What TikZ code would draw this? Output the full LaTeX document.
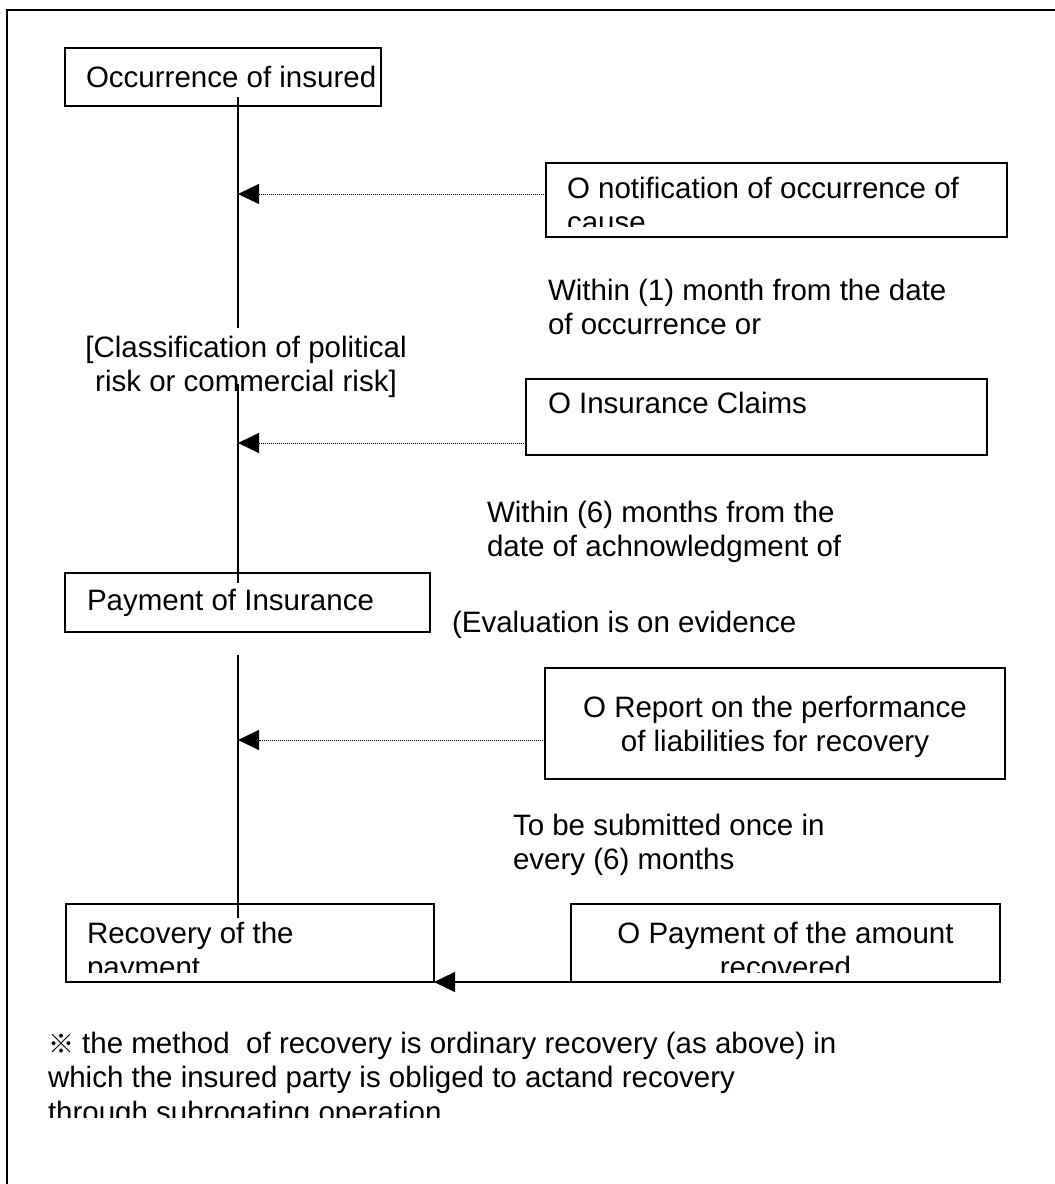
\documentclass[tikz,border=0pt]{standalone}
\usepackage{fontspec}
\setmainfont{Liberation Sans}
\newfontfamily\refmarkfont{Noto Sans CJK JP}
\usetikzlibrary{arrows.meta}
\begin{document}
\begin{tikzpicture}[x=1pt,y=-1pt,
  every node/.style={inner sep=0pt, outer sep=0pt},
  box/.style={draw, line width=1.3pt},
  txt/.style={font=\fontsize{29.5}{34.5}\selectfont, anchor=base west, align=left},
  ctxt/.style={font=\fontsize{29.5}{34.5}\selectfont, anchor=base, align=center},
  flow/.style={line width=1.3pt},
  feed/.style={line width=1pt, dash pattern=on 1pt off 1pt,
    -{Triangle[length=21pt,width=20pt]}},
  back/.style={line width=1.3pt, -{Triangle[length=21pt,width=20pt]}}]
\useasboundingbox (0,0) rectangle (1055,1184);

% page frame (only top and left edges fall inside the page)
\draw[line width=2pt] (1055,10) -- (7,10) -- (7,1184);

% boxes
\node[box, minimum width=316pt, minimum height=58pt] (occ) at (223,77) {};
\node[box, minimum width=461pt, minimum height=74pt] (notif) at (776.5,200) {};
\node[box, minimum width=461pt, minimum height=76pt] (claim) at (756.5,417) {};
\node[box, minimum width=365pt, minimum height=59pt] (payins) at (247.5,602.5) {};
\node[box, minimum width=460pt, minimum height=111pt] (report) at (775,723.5) {};
\node[box, minimum width=368pt, minimum height=78pt] (recov) at (250,943) {};
\node[box, minimum width=429pt, minimum height=78pt] (payamt) at (785.5,943) {};

% main time line
\coordinate (a1) at (238,97);
\coordinate (a2) at (238,583);
\coordinate (b1) at (238,655);
\coordinate (b2) at (238,918);
\draw[flow] (a1) -- (a2);
\draw[flow] (b1) -- (b2);

% feeds into the time line
\coordinate (t1) at (238,194);
\coordinate (t2) at (238,443);
\coordinate (t3) at (238,740);
\draw[feed] (notif.west |- t1) -- (t1);
\draw[feed] (claim.west |- t2) -- (t2);
\draw[feed] (report.west |- t3) -- (t3);
\draw[back] (payamt.south west) -- (recov.south east);

% box texts (multi-line nodes sit on the baseline of their last line)
\node[txt] (occtxt) at (86,87) {Occurrence of insured};
\begin{scope}
  \clip (546,163) rectangle (1007,226);
  \node[txt] (notiftxt) at (567,232.5) {O notification of occurrence of\\cause};
\end{scope}
\node[txt] (claimtxt) at (548,413) {O Insurance Claims};
\node[txt] (payinstxt) at (87,610) {Payment of Insurance};
\node[ctxt] (reporttxt) at (775,751.5) {O Report on the performance\\of liabilities for recovery};
\begin{scope}
  \clip (66,904) rectangle (434,972);
  \node[txt] (recovtxt) at (87,977.5) {Recovery of the\\payment};
\end{scope}
\begin{scope}
  \clip (571,904) rectangle (1000,972);
  \node[ctxt] (payamttxt) at (785.5,977.5) {O Payment of the amount\\recovered};
\end{scope}

% free annotations
\fill[white] (85,328) rectangle (410,384);
\node[ctxt] (classtxt) at (246,391.5) {[Classification of political\\risk or commercial risk]};
\node[txt] (term1) at (548,334.5) {Within (1) month from the date\\of occurrence or};
\node[txt] (term2) at (487,556.5) {Within (6) months from the\\date of achnowledgment of};
\node[txt] (evaltxt) at (452,632) {(Evaluation is on evidence};
\node[txt] (term3) at (513,869.5) {To be submitted once in\\every (6) months};
\begin{scope}
  \clip (0,1000) rectangle (1055,1117);
  \node[txt] (notetxt) at (48,1122) {{\refmarkfont\fontsize{26}{34.5}\selectfont ※} the method\hspace{0.28em} of recovery is ordinary recovery (as above) in\\which the insured party is obliged to actand recovery\\through subrogating operation};
\end{scope}
\end{tikzpicture}
\end{document}
